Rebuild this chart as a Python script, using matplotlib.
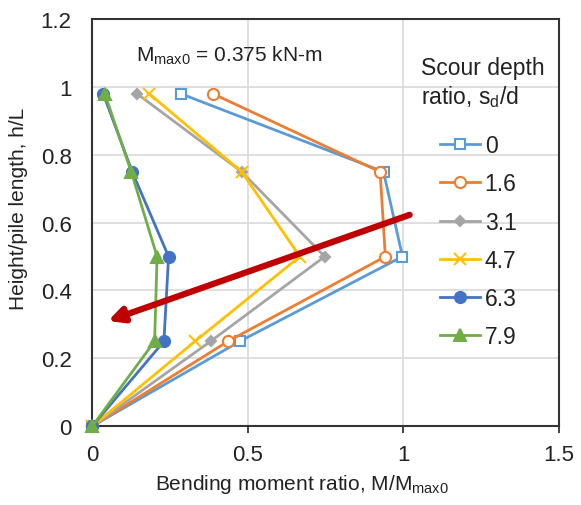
import numpy as np
import matplotlib.pyplot as plt

plt.rcParams['font.family'] = ['Liberation Sans', 'DejaVu Sans']

# hauteur relative le long du pieu
h_ratio = [0, 0.25, 0.5, 0.75, 0.98]

# rapport de moment fléchissant pour chaque profondeur d'affouillement
labels = ['0', '1.6', '3.1', '4.7', '6.3', '7.9']
m_0 = [0, 0.474, 0.997, 0.936, 0.285]
m_16 = [0, 0.436, 0.942, 0.925, 0.388]
m_31 = [0, 0.38, 0.747, 0.48, 0.144]
m_47 = [0, 0.33, 0.667, 0.48, 0.183]
m_63 = [0, 0.23, 0.245, 0.128, 0.035]
m_79 = [0, 0.20, 0.208, 0.125, 0.04]

series = [m_0, m_16, m_31, m_47, m_63, m_79]
colors = ['#5B9BD5', '#ED7D31', '#A5A5A5', '#FFC000', '#4472C4', '#70AD47']
markers = ['s', 'o', 'D', 'x', 'o', '^']
msizes = [7.5, 8, 5, 8, 8, 8]
filled = [False, False, True, True, True, True]

fig = plt.figure(figsize=(5.81, 5.06), dpi=100)
ax = fig.add_axes([0.159, 0.156, 0.803, 0.804])

for m, lab, c, mk, ms, f in zip(series, labels, colors, markers, msizes, filled):
    ax.plot(m, h_ratio, color=c, marker=mk, markersize=ms, lw=2,
            markerfacecolor=c if f else 'white', markeredgecolor=c,
            markeredgewidth=1.5, label=lab, clip_on=False, zorder=3)

# flèche de tendance
ax.annotate('', xy=(0.05, 0.31), xytext=(1.02, 0.623),
            arrowprops=dict(arrowstyle='-|>', lw=4.5, color='#C00000',
                            mutation_scale=22, shrinkA=0, shrinkB=0),
            zorder=5)

ax.text(0.14, 1.095, r'M$_{\mathregular{max0}}$ = 0.375 kN-m', fontsize=15,
        va='center', color='#222222')

ax.set_xlim(0, 1.5)
ax.set_ylim(0, 1.2)
ax.set_xticks([0, 0.5, 1, 1.5])
ax.set_xticklabels(['0', '0.5', '1', '1.5'])
ax.set_yticks([0, 0.2, 0.4, 0.6, 0.8, 1.0, 1.2])
ax.set_yticklabels(['0', '0.2', '0.4', '0.6', '0.8', '1', '1.2'])
ax.tick_params(axis='x', length=5, width=1.2, labelsize=16, colors='#222222', pad=8)
ax.tick_params(axis='y', length=0, labelsize=16, colors='#222222', pad=15)
ax.grid(True, color='#D9D9D9', lw=1.2)
ax.set_axisbelow(True)
for s in ax.spines.values():
    s.set_color('#333333')
    s.set_linewidth(1.5)

ax.set_xlabel(r'Bending moment ratio, M/M$_{\mathregular{max0}}$', fontsize=15,
              color='#222222')
ax.xaxis.set_label_coords(0.45, -0.113)
ax.set_ylabel('Height/pile length, h/L', fontsize=15, color='#222222')
ax.yaxis.set_label_coords(-0.137, 0.536)

# titre de la légende
ax.text(1.058, 1.013, 'Scour depth\n' + r'ratio, s$_{\mathregular{d}}$/d',
        fontsize=16.5, va='center', ha='left', color='#222222', linespacing=1.2)

leg = ax.legend(loc='upper left', bbox_to_anchor=(0.745, 0.717), frameon=False,
                fontsize=16.5, handlelength=1.75, borderpad=0, borderaxespad=0,
                labelspacing=0.66, handletextpad=0.2)
for t in leg.get_texts():
    t.set_color('#222222')

fig.savefig('out.png', dpi=100)
